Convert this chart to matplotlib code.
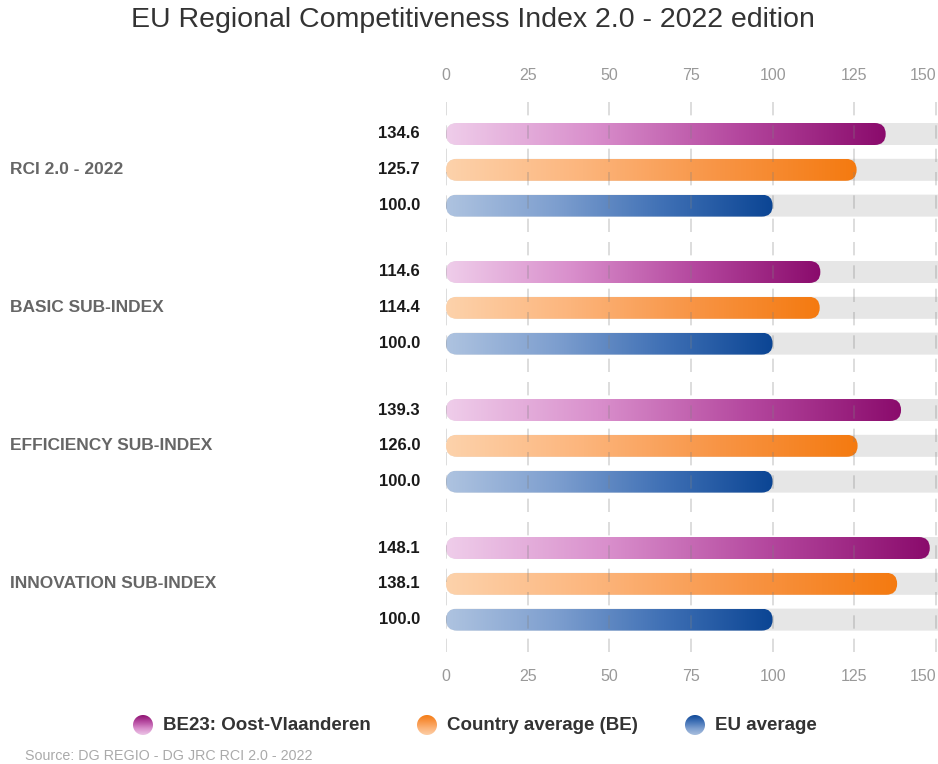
import numpy as np
import matplotlib
matplotlib.use("Agg")
import matplotlib.pyplot as plt
from matplotlib.patches import FancyBboxPatch, Circle
from matplotlib.colors import LinearSegmentedColormap
from matplotlib.transforms import offset_copy, blended_transform_factory

plt.rcParams['font.family'] = ['Liberation Sans', 'DejaVu Sans']

# ---------------- data ----------------
title = "EU Regional Competitiveness Index 2.0 - 2022 edition"
groups = ["RCI 2.0 - 2022", "BASIC SUB-INDEX", "EFFICIENCY SUB-INDEX", "INNOVATION SUB-INDEX"]
series_names = ["BE23: Oost-Vlaanderen", "Country average (BE)", "EU average"]
region_vals = [134.6, 114.6, 139.3, 148.1]
country_vals = [125.7, 114.4, 126.0, 138.1]
eu_vals = [100.0, 100.0, 100.0, 100.0]
xticks = [0, 25, 50, 75, 100, 125, 150]
source = "Source: DG REGIO - DG JRC RCI 2.0 - 2022"

# colour ramps (light -> dark)
ramps = [("#efcdea", "#d98fcc", "#b4479e", "#8a0b6c"),
         ("#fdd2ab", "#fcb57c", "#f89444", "#f47a10"),
         ("#aec3e0", "#7e9fcf", "#3f70b5", "#0b4594")]
series_vals = [region_vals, country_vals, eu_vals]

W, H = 938, 764
fig = plt.figure(figsize=(W / 100, H / 100), dpi=100)

# main axes placement (pixels)
ax_l, ax_r, ax_t, ax_b = 446, 938, 100, 652
ax = fig.add_axes([ax_l / W, 1 - ax_b / H, (ax_r - ax_l) / W, (ax_b - ax_t) / H])

px_per_x = (936 - 446) / 150.0
xmax = (ax_r - ax_l) / px_per_x
row_px = 35.8
group_step = 138.0 / row_px
first_px = 134
ytop = (ax_t - first_px) / row_px
ybot = (ax_b - first_px) / row_px
ax.set_xlim(0, xmax)
ax.set_ylim(ybot, ytop)
for s in ax.spines.values():
    s.set_visible(False)

bar_h = 22.0 / row_px
m_aspect = px_per_x / row_px
rsize = 11.0 / px_per_x

grad = np.linspace(0, 1, 256).reshape(1, -1)
label_tr = offset_copy(ax.transData, fig=fig, x=-26, y=0, units='dots')
group_tr = blended_transform_factory(fig.transFigure, ax.transData)

for g, gname in enumerate(groups):
    for si in range(3):
        y = g * group_step + si
        v = series_vals[si][g]
        # background track
        track = FancyBboxPatch((0, y - bar_h / 2), xmax + 20, bar_h,
                               boxstyle=f"round,pad=0,rounding_size={rsize}",
                               facecolor="#e6e6e6", edgecolor="none", zorder=1)
        track.set_mutation_aspect(m_aspect)
        ax.add_patch(track)
        # gradient bar clipped to rounded shape
        patch = FancyBboxPatch((0, y - bar_h / 2), v, bar_h,
                               boxstyle=f"round,pad=0,rounding_size={rsize}",
                               facecolor="none", edgecolor="none", zorder=2)
        patch.set_mutation_aspect(m_aspect)
        ax.add_patch(patch)
        cmap = LinearSegmentedColormap.from_list(f"c{si}", ramps[si])
        im = ax.imshow(grad, extent=[0, v, y + bar_h / 2, y - bar_h / 2],
                       aspect='auto', cmap=cmap, interpolation='bilinear', zorder=3)
        im.set_clip_path(patch)
        # value label
        ax.text(0, y, f"{v:.1f}", transform=label_tr, ha='right', va='center',
                fontsize=12, fontweight='bold', color='#1a1a1a')
    # group label
    yc = g * group_step + 1
    ax.text(10 / W, yc, gname, transform=group_tr,
            ha='left', va='center', fontsize=12.5, fontweight='bold', color='#666666')

ax.set_xlim(0, xmax)
ax.set_ylim(ybot, ytop)

# grid on top, semi-transparent
for t in xticks:
    ax.axvline(t, color='#808080', alpha=0.32, lw=1.2, dashes=(8, 6), zorder=5)

ax.set_xticks(xticks)
ax.set_xticklabels([str(t) for t in xticks])
ax.set_yticks([])
ax.tick_params(axis='x', top=True, labeltop=True, bottom=True, labelbottom=True,
               length=0, labelsize=11.5, labelcolor='#999999', pad=12)
# keep the last label inside the figure
last = ax.xaxis.get_major_ticks()[-1]
last.label1.set_horizontalalignment('right')
last.label2.set_horizontalalignment('right')

# title
fig.text(473 / W, 1 - 20 / H, title, ha='center', va='center', fontsize=20.5, color='#333333')

# legend + source via pixel overlay
ov = fig.add_axes([0, 0, 1, 1], zorder=-1)
ov.set_xlim(0, W)
ov.set_ylim(H, 0)
ov.axis('off')
leg_x = [143, 427, 695]
leg_y = 725
vgrad = np.linspace(0, 1, 64).reshape(-1, 1)
for si, name in enumerate(series_names):
    cx = leg_x[si]
    c = Circle((cx, leg_y), 10, facecolor='none', edgecolor='none')
    ov.add_patch(c)
    cmap = LinearSegmentedColormap.from_list(f"l{si}", ramps[si][::-1])
    im = ov.imshow(vgrad, extent=[cx - 11, cx + 11, leg_y + 11, leg_y - 11], origin='upper',
                   aspect='auto', cmap=cmap, interpolation='bilinear')
    im.set_clip_path(c)
    ov.text(cx + 20, leg_y, name, ha='left', va='center', fontsize=13.5,
            fontweight='bold', color='#333333')
ov.set_xlim(0, W)
ov.set_ylim(H, 0)
ov.text(25, 756, source, ha='left', va='center', fontsize=10.3, color='#aaaaaa')

fig.savefig("out.png", dpi=100)
